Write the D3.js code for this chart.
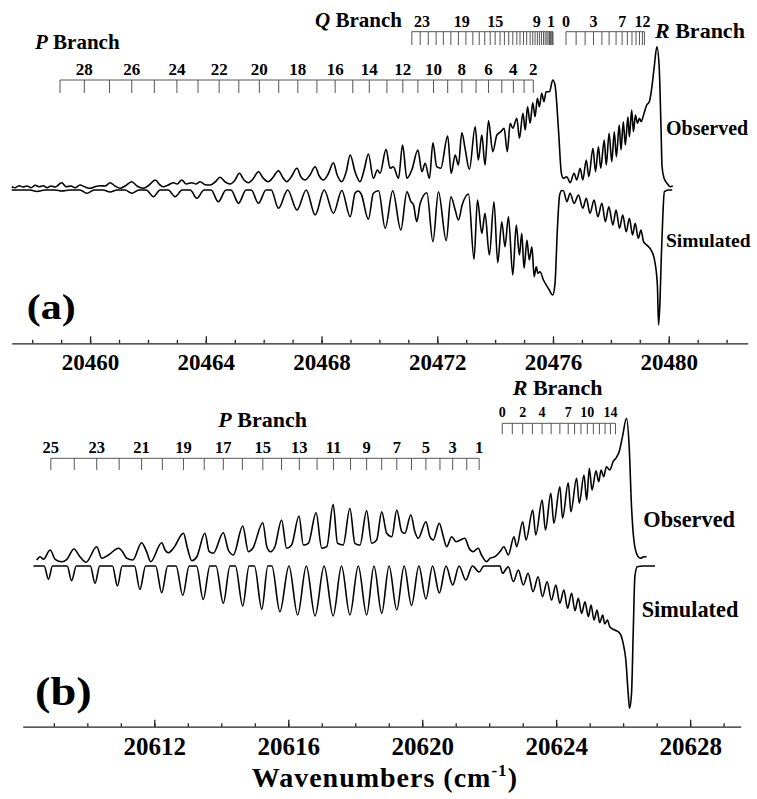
<!DOCTYPE html>
<html lang="en">
<head>
<meta charset="utf-8">
<title>Spectrum</title>
<script src="https://cdn.jsdelivr.net/npm/d3@7"></script>
<style>
  body { margin: 0; background: #fff; }
  text { font-family: "Liberation Serif", "Times New Roman", serif; font-weight: bold; fill: #000; }
  .trace { fill: none; stroke: #000; stroke-width: 1.6px; stroke-linejoin: round; }
  .ladder line { stroke: #555; stroke-width: 1px; }
  .axis path, .axis line { stroke: #222; stroke-width: 1.3px; }
</style>
</head>
<body>
<div id="chart"></div>
<script>
// ---- panel (a) traces: [wavenumber, intensity] ----
var obsA = [[20457.29,3.3],[20457.41,2.3],[20457.55,4.3],[20457.68,3],[20457.82,4],[20457.96,2.3],[20458.10,4.7],[20458.24,3.3],[20458.38,4.3],[20458.51,2.3],[20458.65,4],[20458.79,3],[20459.02,7.3],[20459.17,3.3],[20459.34,4],[20459.48,2.3],[20459.65,5],[20459.83,3],[20460.00,1.7],[20460.17,3.3],[20460.35,4.3],[20460.52,4],[20460.69,7.3],[20460.86,4],[20461.04,1.7],[20461.21,4],[20461.44,8.3],[20461.62,4],[20461.84,1.7],[20462.04,5],[20462.25,10],[20462.42,5],[20462.53,3.3],[20462.70,5],[20462.88,7.3],[20463.01,6],[20463.17,10],[20463.32,6],[20463.52,7.3],[20463.66,6],[20463.80,8.3],[20463.98,5.3],[20464.15,5],[20464.32,8],[20464.49,12.7],[20464.67,8],[20464.84,6],[20465.01,10],[20465.16,16.7],[20465.32,10],[20465.47,7.3],[20465.63,11],[20465.82,18.3],[20465.98,12],[20466.16,8.3],[20466.33,13],[20466.51,19.3],[20466.67,12],[20466.80,8.3],[20466.95,13],[20467.15,21.7],[20467.29,13],[20467.43,10],[20467.60,15],[20467.78,23.3],[20467.92,14],[20468.06,10],[20468.23,16],[20468.41,27.3],[20468.54,15],[20468.70,8.3],[20468.85,18],[20468.99,35],[20469.16,18],[20469.33,8.3],[20469.47,20],[20469.62,36],[20469.79,11.7],[20469.93,20],[20470.02,16.7],[20470.23,40.7],[20470.37,21.7],[20470.48,23.3],[20470.66,11.7],[20470.80,45],[20470.95,11.7],[20471.12,20],[20471.33,40],[20471.47,18.3],[20471.58,26.7],[20471.73,11.7],[20471.85,47.3],[20471.98,23.3],[20472.12,21.7],[20472.36,54],[20472.48,16.7],[20472.62,35],[20472.73,25],[20472.85,57.3],[20472.96,41.7],[20473.11,20.7],[20473.31,63.3],[20473.42,30],[20473.54,55],[20473.65,25],[20473.77,69.3],[20473.92,38.3],[20474.06,55],[20474.20,58.3],[20474.31,61.7],[20474.42,38.3],[20474.52,66.7],[20474.61,61.7],[20474.75,71.7],[20474.84,51.7],[20474.96,76.7],[20475.04,60],[20475.12,83.3],[20475.21,66.7],[20475.30,87.3],[20475.38,73.3],[20475.46,91.7],[20475.53,83.3],[20475.61,96.7],[20475.69,88.3],[20475.76,98.3],[20475.88,98.3],[20475.99,110],[20476.07,105],[20476.19,60],[20476.29,16.7],[20476.36,11.7],[20476.48,13.3],[20476.59,7.3],[20476.73,16.7],[20476.82,10],[20476.94,21.7],[20477.03,10],[20477.15,30],[20477.24,13.3],[20477.38,41.7],[20477.47,18.3],[20477.57,43.3],[20477.65,21.7],[20477.77,50],[20477.84,25],[20477.94,56.7],[20478.03,28.3],[20478.12,58.3],[20478.19,33.3],[20478.29,65],[20478.35,40],[20478.43,68.3],[20478.50,45],[20478.59,73.3],[20478.64,53.3],[20478.72,80],[20478.78,58.3],[20478.85,75],[20478.92,66.7],[20478.99,71.7],[20479.05,68.3],[20479.13,75],[20479.24,85],[20479.33,88.3],[20479.42,103.3],[20479.50,123.3],[20479.59,143.3],[20479.67,123.3],[20479.73,66.7],[20479.77,23.3],[20479.84,11.7],[20479.96,6],[20480.05,3.3],[20480.14,4]];

var simA = [[20457.29,0],[20457.93,0],[20458.16,-1.5],[20458.44,0],[20458.79,0],[20459.02,-1],[20459.31,0],[20459.65,0],[20459.89,-3.3],[20460.14,0],[20460.45,0],[20460.69,-2],[20460.93,0],[20461.21,0],[20461.44,-3.3],[20461.69,0],[20461.94,0],[20462.19,-6.7],[20462.42,0],[20462.70,0],[20462.94,-6.7],[20463.18,0],[20463.46,0],[20463.69,-8.3],[20463.94,0],[20464.18,0],[20464.43,-11.7],[20464.70,0],[20464.87,0],[20465.13,-13.3],[20465.39,0],[20465.57,0],[20465.82,-13.3],[20466.08,0],[20466.26,0],[20466.51,-18.3],[20466.83,0],[20467.15,-20],[20467.47,0],[20467.78,-25],[20468.09,0],[20468.41,-23.3],[20468.70,-0.5],[20468.99,-26.7],[20469.16,-3],[20469.27,-1],[20469.37,-4],[20469.62,-29.3],[20469.79,-3.3],[20469.97,-0.7],[20470.20,-38.3],[20470.46,-0.7],[20470.74,-40],[20470.95,-1.7],[20471.09,-11.7],[20471.18,-15],[20471.29,-31.7],[20471.41,-13.3],[20471.64,-2.7],[20471.85,-51.7],[20472.04,-1.7],[20472.31,-50.7],[20472.47,-6.7],[20472.62,-20],[20472.73,-30],[20472.86,-15],[20473.08,-4],[20473.27,-69.3],[20473.39,-10],[20473.54,-43.3],[20473.65,-23.3],[20473.80,-65],[20473.96,-11.7],[20474.09,-72.7],[20474.23,-31.7],[20474.34,-56.7],[20474.46,-26.7],[20474.61,-85],[20474.73,-35],[20474.84,-65],[20474.92,-43.3],[20475.00,-78.3],[20475.10,-50],[20475.18,-70],[20475.27,-56.7],[20475.35,-86.7],[20475.42,-76.7],[20475.48,-83.3],[20475.55,-81.7],[20475.67,-90],[20475.84,-98.3],[20475.99,-105],[20476.07,-93.3],[20476.15,-40],[20476.23,-5],[20476.30,-0.5],[20476.36,-0.7],[20476.48,-11.7],[20476.59,-3.3],[20476.73,-13.3],[20476.88,-5],[20477.03,-18.3],[20477.15,-8.3],[20477.28,-23.3],[20477.42,-10],[20477.55,-26.7],[20477.69,-13.3],[20477.81,-31.7],[20477.93,-16.7],[20478.07,-35],[20478.18,-20],[20478.30,-38.3],[20478.41,-25],[20478.53,-41.7],[20478.64,-28.3],[20478.75,-45],[20478.84,-33.3],[20478.95,-48.3],[20479.04,-40],[20479.13,-51.7],[20479.24,-55],[20479.42,-61.7],[20479.53,-73.3],[20479.61,-96.7],[20479.65,-135],[20479.70,-110],[20479.74,-70],[20479.80,-23.3],[20479.85,-1.7],[20479.99,0],[20480.12,0]];

// ---- panel (b) traces ----
var obsB = [[20608.49,6],[20608.59,9.3],[20608.69,6.7],[20608.89,16],[20609.04,6.7],[20609.24,4.3],[20609.39,6.7],[20609.60,17],[20609.78,9.3],[20609.96,3.7],[20610.28,19.3],[20610.43,7.7],[20610.63,11],[20610.93,17.7],[20611.03,15.3],[20611.18,7.7],[20611.36,6],[20611.62,23.3],[20611.77,14.3],[20611.89,4.3],[20612.22,23.3],[20612.32,16],[20612.42,13.3],[20612.57,17.7],[20612.87,32.7],[20612.99,17.7],[20613.12,5.3],[20613.27,9.3],[20613.51,32.7],[20613.64,14.3],[20613.76,12.7],[20614.06,33.3],[20614.21,16],[20614.36,11],[20614.64,40],[20614.81,14.3],[20614.94,17.7],[20615.24,43.3],[20615.36,19.3],[20615.47,14.3],[20615.60,19.3],[20615.80,46],[20615.95,17.7],[20616.10,21],[20616.32,50],[20616.45,21],[20616.60,22.7],[20616.83,53.3],[20617.00,17.7],[20617.15,19.3],[20617.34,61.7],[20617.47,22.7],[20617.64,21],[20617.84,57.7],[20617.99,22.7],[20618.14,21],[20618.34,55.3],[20618.49,22.7],[20618.64,26],[20618.79,54.3],[20618.94,32.7],[20619.09,29.3],[20619.24,56],[20619.39,34.3],[20619.48,32.7],[20619.66,51],[20619.78,34.3],[20619.88,27.7],[20620.11,44.3],[20620.23,29.3],[20620.33,26],[20620.51,42.7],[20620.63,29.3],[20620.73,19.3],[20620.88,29.3],[20621.01,24.3],[20621.27,27.7],[20621.40,17.7],[20621.52,14.3],[20621.67,17.7],[20621.77,11],[20621.92,4.3],[20622.02,7.7],[20622.17,9.3],[20622.32,14.3],[20622.44,19.3],[20622.57,11],[20622.74,29.3],[20622.82,19.3],[20623.00,44.3],[20623.10,26],[20623.30,56],[20623.39,31],[20623.58,66],[20623.68,36],[20623.84,72.7],[20623.93,42.7],[20624.11,79.3],[20624.19,47.7],[20624.36,83.3],[20624.44,54.3],[20624.61,87.7],[20624.69,62.7],[20624.83,91],[20624.91,66],[20624.99,97.7],[20625.07,76],[20625.19,95.3],[20625.27,84.3],[20625.34,96],[20625.42,89.3],[20625.50,99.3],[20625.60,96],[20625.70,104.3],[20625.80,108.7],[20625.88,114.3],[20625.98,129.3],[20626.10,147.7],[20626.18,119.3],[20626.25,59.3],[20626.32,26],[20626.42,11],[20626.52,7.7],[20626.62,9.3],[20626.70,9.3]];

var simB = [[20608.39,0],[20608.71,0],[20608.84,-13.3],[20608.96,0],[20609.40,0],[20609.53,-14.7],[20609.67,0],[20610.09,0],[20610.23,-17.3],[20610.37,0],[20610.75,0],[20610.90,-20],[20611.04,0],[20611.41,0],[20611.57,-23.5],[20611.74,0],[20612.04,0],[20612.22,-26.7],[20612.40,0],[20612.65,0],[20612.85,-29.5],[20613.04,0],[20613.26,0],[20613.46,-33.5],[20613.66,0],[20613.84,0],[20614.06,-37.3],[20614.26,0],[20614.42,0],[20614.64,-40],[20614.83,0],[20614.99,0],[20615.21,-43.3],[20615.39,0],[20615.51,0],[20615.75,-45.7],[20616.02,0],[20616.28,-49],[20616.54,0],[20616.80,-50],[20617.07,0],[20617.34,-50],[20617.59,0],[20617.84,-49],[20618.09,0],[20618.34,-49],[20618.56,0],[20618.79,-47.3],[20619.01,0],[20619.24,-44],[20619.46,0],[20619.68,-39.5],[20619.90,0],[20620.11,-33],[20620.31,0],[20620.51,-27],[20620.71,0],[20620.91,-19],[20621.10,0],[20621.30,-14],[20621.50,0],[20621.70,-6],[20621.84,0],[20622.32,0],[20622.40,-7.3],[20622.57,-0.7],[20622.72,-15.7],[20622.87,-4],[20623.02,-19],[20623.16,-7.3],[20623.31,-25.7],[20623.46,-10.7],[20623.59,-30.7],[20623.73,-15.7],[20623.86,-34],[20623.99,-19],[20624.11,-37.3],[20624.23,-24],[20624.34,-42.3],[20624.46,-27.3],[20624.56,-44.7],[20624.66,-32.3],[20624.76,-47.3],[20624.86,-35.7],[20624.96,-50.7],[20625.04,-39],[20625.13,-54],[20625.22,-44],[20625.30,-56.7],[20625.39,-49],[20625.45,-58],[20625.53,-54],[20625.60,-60.7],[20625.75,-64],[20625.90,-67.3],[20626.00,-77.3],[20626.08,-94],[20626.15,-127.3],[20626.19,-142.3],[20626.25,-127.3],[20626.30,-67.3],[20626.35,-10.7],[20626.42,-0.7],[20626.60,0],[20626.95,0]];

// ---- rotational assignment ladders: [J, wavenumber] ----
var pLinesA = [[29,20458.96],[28,20459.80],[27,20460.67],[26,20461.44],[25,20462.22],[24,20463.00],[23,20463.73],[22,20464.46],[21,20465.14],[20,20465.85],[19,20466.52],[18,20467.18],[17,20467.84],[16,20468.47],[15,20469.08],[14,20469.65],[13,20470.26],[12,20470.81],[11,20471.33],[10,20471.87],[9,20472.36],[8,20472.85],[7,20473.34],[6,20473.77],[5,20474.23],[4,20474.63],[3,20475.00],[2,20475.32]];
var pLabelsA = [28,26,24,22,20,18,16,14,12,10,8,6,4,2];

var qLinesA = [20471.12,20471.41,20471.69,20471.96,20472.21,20472.47,20472.73,20472.99,20473.23,20473.45,20473.64,20473.83,20474.00,20474.17,20474.32,20474.47,20474.61,20474.75,20474.86,20474.98,20475.09,20475.21,20475.30,20475.38,20475.46,20475.53,20475.60,20475.67,20475.73,20475.79,20475.83,20475.88,20475.91,20475.94,20475.98,20476.00];
var qLabelsA = [["23",20471.47],["19",20472.85],["15",20474.00],["9",20475.44],["1",20475.93]];

var rLinesA = [[0,20476.45],[1,20476.80],[2,20477.11],[3,20477.40],[4,20477.69],[5,20477.94],[6,20478.18],[7,20478.39],[8,20478.57],[9,20478.73],[10,20478.87],[11,20478.99],[12,20479.09],[13,20479.16]];
var rLabelsA = [0,3,7,12];

var pLinesB = [[25,20608.91],[24,20609.61],[23,20610.28],[22,20610.95],[21,20611.62],[20,20612.24],[19,20612.87],[18,20613.49],[17,20614.06],[16,20614.63],[15,20615.24],[14,20615.80],[13,20616.33],[12,20616.86],[11,20617.35],[10,20617.86],[9,20618.34],[8,20618.79],[7,20619.24],[6,20619.68],[5,20620.11],[4,20620.53],[3,20620.91],[2,20621.33],[1,20621.70]];
var pLabelsB = [25,23,21,19,17,15,13,11,9,7,5,3,1];

var rLinesB = [[0,20622.39],[1,20622.69],[2,20623.00],[3,20623.29],[4,20623.58],[5,20623.85],[6,20624.11],[7,20624.36],[8,20624.55],[9,20624.74],[10,20624.93],[11,20625.11],[12,20625.29],[13,20625.46],[14,20625.62],[15,20625.77]];
var rLabelsB = [0,2,4,7,10,14];

// ---- axis ticks ----
var majorA = [20460,20464,20468,20472,20476,20480];
var minorA = d3.range(20458, 20483);
var majorB = [20612,20616,20620,20624,20628];
var minorB = d3.range(20609, 20630);

var width = 757, height = 799;
var svg = d3.select("#chart").append("svg")
    .attr("width", width)
    .attr("height", height);

var xA = d3.scaleLinear().domain([20457.29, 20482.73]).range([11.7, 747.7]);
var yA = d3.scaleLinear().domain([-150, 150]).range([340, 40]);
var xB = d3.scaleLinear().domain([20608.07, 20629.51]).range([22.7, 740.7]);
var yB = d3.scaleLinear().domain([-150, 150]).range([716, 416]);

function trace(data, x, y) {
  var line = d3.line()
    .x(function(d) { return x(d[0]); })
    .y(function(d) { return y(d[1]); })
    .curve(d3.curveMonotoneX);
  svg.append("path").attr("class", "trace").attr("d", line(data));
}

trace(obsA, xA, yA);
trace(simA, xA, yA);
trace(obsB, xB, yB);
trace(simB, xB, yB);

// ladder: horizontal bar with tick per line, labels above
function ladder(x, lines, y0, len, labels, labelY, size) {
  var g = svg.append("g").attr("class", "ladder");
  var ext = d3.extent(lines);
  g.append("line")
    .attr("x1", x(ext[0])).attr("x2", x(ext[1]))
    .attr("y1", y0).attr("y2", y0);
  g.selectAll(".t").data(lines).enter().append("line")
    .attr("x1", function(d) { return x(d); }).attr("x2", function(d) { return x(d); })
    .attr("y1", y0).attr("y2", y0 + len);
  g.selectAll("text").data(labels).enter().append("text")
    .attr("x", function(d) { return x(d[1]); })
    .attr("y", labelY)
    .attr("text-anchor", "middle")
    .style("font-size", size + "px")
    .text(function(d) { return d[0]; });
}

function pick(lines, labels) {
  var m = new Map(lines);
  return labels.map(function(j) { return [String(j), m.get(j)]; });
}

ladder(xA, pLinesA.map(function(d) { return d[1]; }), 80, 13, pick(pLinesA, pLabelsA), 75, 17);
ladder(xA, qLinesA, 31.7, 13.3, qLabelsA, 26.7, 16);
ladder(xA, rLinesA.map(function(d) { return d[1]; }), 31.7, 13.3, pick(rLinesA, rLabelsA), 26.7, 16);
ladder(xB, pLinesB.map(function(d) { return d[1]; }), 458.3, 11.7, pick(pLinesB, pLabelsB), 452.7, 16.5);
ladder(xB, rLinesB.map(function(d) { return d[1]; }), 423.3, 11, pick(rLinesB, rLabelsB), 416.7, 14);

// axes with upward ticks
function axis(x, y0, major, minor, size, labelY) {
  svg.append("g").attr("class", "axis")
    .attr("transform", "translate(0," + y0 + ")")
    .call(d3.axisBottom(x).tickValues(minor).tickSize(-3.5).tickFormat(""))
    .call(function(g) { g.select(".domain").remove(); });
  var g = svg.append("g").attr("class", "axis")
    .attr("transform", "translate(0," + y0 + ")")
    .call(d3.axisBottom(x).tickValues(major).tickSize(-7).tickSizeOuter(0).tickFormat(d3.format("d")));
  g.selectAll("text")
    .attr("y", labelY).attr("dy", null)
    .attr("fill", null)
    .style("font-size", size + "px")
    .style("font-family", '"Liberation Serif", serif');
}
axis(xA, 343.3, majorA, minorA, 23, 27);
axis(xB, 726.7, majorB, minorB, 25, 28.3);

function label(x, y, parts, size, anchor) {
  var t = svg.append("text").attr("x", x).attr("y", y)
    .style("font-size", size + "px")
    .attr("text-anchor", anchor || "start");
  parts.forEach(function(p) {
    var s = t.append("tspan").text(p[0]);
    if (p[1]) s.style("font-style", "italic");
  });
  return t;
}

label(35, 49, [["P", 1], [" Branch"]], 21);
label(315, 27, [["Q", 1], [" Branch"]], 21);
label(655, 37.5, [["R", 1], [" Branch"]], 22);
label(666, 135, [["Observed"]], 20);
label(666, 247, [["Simulated"]], 19.5);
label(26.7, 318.5, [["(a)"]], 35).attr("textLength", 49).attr("lengthAdjust", "spacingAndGlyphs");

label(218.3, 426.7, [["P", 1], [" Branch"]], 22);
label(512.7, 395, [["R", 1], [" Branch"]], 22);
label(643.3, 526.7, [["Observed"]], 22.3);
label(641.7, 617.3, [["Simulated"]], 22.3);
label(35, 704.5, [["(b)"]], 40).attr("textLength", 56.7).attr("lengthAdjust", "spacingAndGlyphs");

var xl = svg.append("text").attr("x", 251.7).attr("y", 786.7)
  .style("font-size", "28px").style("letter-spacing", "1px");
xl.append("tspan").text("Wavenumbers (cm");
xl.append("tspan").attr("dy", -11).style("font-size", "17px").text("-1");
xl.append("tspan").attr("dy", 11).text(")");
</script>
</body>
</html>
